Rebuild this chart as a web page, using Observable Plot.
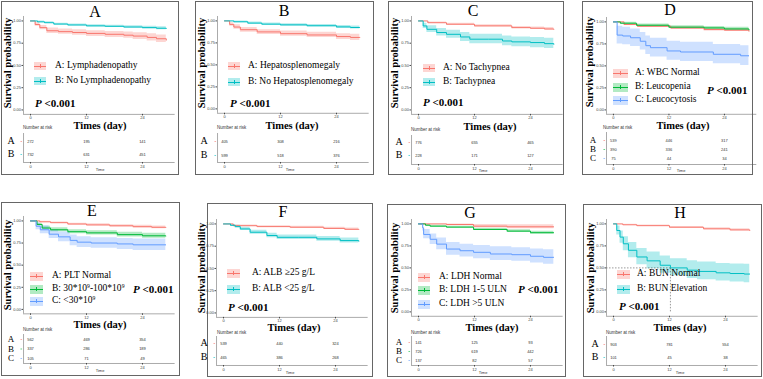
<!DOCTYPE html>
<html><head><meta charset="utf-8">
<script src="https://cdn.jsdelivr.net/npm/d3@7"></script>
<script src="https://cdn.jsdelivr.net/npm/@observablehq/plot@0.6"></script>
<style>
html,body{margin:0;padding:0;background:#fff;}
#fig{position:relative;width:763px;height:379px;overflow:hidden;background:#fff;font-family:"Liberation Serif","Times New Roman",serif;color:#000;}
.box{position:absolute;border:1px solid #666;box-sizing:border-box;}
.t{position:absolute;white-space:nowrap;line-height:1;transform:translate(-50%,-50%);}
.l{position:absolute;white-space:nowrap;line-height:1;transform:translate(0,-50%);}
.r{position:absolute;white-space:nowrap;line-height:1;transform:translate(-50%,-50%) rotate(-90deg);}
#fig svg{position:absolute;overflow:visible;}
sup{font-size:0.6em;vertical-align:0.55em;line-height:0;}
</style></head><body><div id="fig"></div>
<script>
// ---------- DATA ----------
const panelLetters = ["A","B","C","D","E","F","G","H"];
const timeTicks = [0, 12, 24];
const survTicks = [0, 0.25, 0.5, 0.75, 1];
const pValueText = "<0.001";
const rowLetters = ["A","B","C"];

// KM curves: [time, survival, lower CI, upper CI]
const labelsA = ["A: Lymphadenopathy", "B: No Lymphadenopathy"];
const kmA1 = [[0,1,1,1],[1,0.96,0.94,0.98],[2,0.925,0.9,0.95],[3.5,0.89,0.86,0.92],[6,0.88,0.85,0.91],[9,0.87,0.84,0.9],[12,0.86,0.825,0.89],[16,0.85,0.815,0.882],[20,0.84,0.805,0.875],[22,0.83,0.792,0.868],[25,0.815,0.775,0.855],[27,0.8,0.758,0.842],[29.1,0.785,0.745,0.83]];
const kmA2 = [[0,1,1,1],[1.5,0.99,0.98,1],[3,0.98,0.97,0.99],[5,0.965,0.955,0.975],[8,0.955,0.943,0.967],[12,0.945,0.932,0.958],[16,0.94,0.926,0.953],[20,0.932,0.918,0.946],[24,0.925,0.91,0.94],[27,0.918,0.9,0.935],[29.1,0.915,0.897,0.932]];
const riskA = [[272,195,141],[732,631,451]];

const labelsB = ["A: Hepatosplenomegaly", "B: No Hepatosplenomegaly"];
const kmB1 = [[0,1,1,1],[1.1,0.96,0.94,0.98],[2,0.93,0.905,0.955],[3.4,0.9,0.87,0.925],[7,0.875,0.845,0.9],[12,0.855,0.825,0.885],[17.7,0.84,0.81,0.87],[24,0.822,0.79,0.855],[27,0.812,0.778,0.847],[29,0.81,0.775,0.845]];
const kmB2 = [[0,1,1,1],[2,0.99,0.98,1],[5,0.975,0.963,0.987],[8,0.963,0.95,0.976],[12,0.955,0.94,0.968],[17.7,0.945,0.93,0.96],[24,0.932,0.915,0.948],[27,0.925,0.907,0.943],[29,0.925,0.907,0.943]];
const riskB = [[405,308,216],[599,518,376]];

const labelsC = ["A: No Tachypnea", "B: Tachypnea"];
const kmC1 = [[0,1,1,1],[2,0.98,0.972,0.988],[6,0.963,0.953,0.973],[12,0.945,0.933,0.957],[20,0.925,0.912,0.938],[24,0.918,0.904,0.932],[27,0.91,0.895,0.925],[29,0.906,0.89,0.922]];
const kmC2 = [[0,1,1,1],[1,0.944,0.915,0.975],[1.8,0.906,0.87,0.945],[3.9,0.87,0.83,0.915],[6,0.85,0.805,0.895],[9,0.82,0.77,0.87],[11,0.795,0.745,0.85],[15,0.795,0.745,0.85],[18,0.775,0.72,0.83],[20,0.765,0.71,0.82],[24,0.757,0.7,0.815],[27,0.745,0.69,0.805],[29,0.738,0.68,0.8]];
const riskC = [[776,655,465],[228,171,127]];

const labelsD = ["A: WBC Normal", "B: Leucopenia", "C: Leucocytosis"];
const kmD1 = [[0,1,1,1],[2.3,0.97,0.96,0.98],[5.2,0.95,0.938,0.962],[12.4,0.93,0.916,0.944],[19.6,0.913,0.898,0.928],[24,0.906,0.89,0.922],[29.3,0.894,0.876,0.912]];
const kmD2 = [[0,1,1,1],[1.5,0.985,0.975,0.995],[5,0.962,0.948,0.976],[12,0.94,0.924,0.956],[19.6,0.932,0.915,0.949],[24,0.92,0.902,0.938],[29.3,0.91,0.89,0.93]];
const kmD3 = [[0,1,1,1],[0.8,0.85,0.75,0.95],[2,0.84,0.74,0.94],[3.7,0.82,0.72,0.92],[5.8,0.78,0.68,0.88],[7,0.73,0.63,0.84],[8,0.707,0.6,0.815],[11.6,0.67,0.565,0.78],[14.5,0.658,0.55,0.768],[21.6,0.632,0.525,0.742],[27.5,0.615,0.505,0.728],[29.3,0.615,0.505,0.728]];
const riskD = [[539,446,317],[390,336,241],[75,44,34]];

const labelsE = ["A: PLT Normal", "B: 30*10^9-100*10^9", "C: <30*10^9"];
const kmE1 = [[0,1,1,1],[2,0.99,0.985,0.995],[4.3,0.98,0.972,0.988],[8,0.965,0.955,0.975],[12,0.955,0.943,0.967],[17,0.945,0.932,0.958],[22,0.935,0.92,0.95],[26,0.928,0.912,0.944],[29,0.925,0.908,0.942]];
const kmE2 = [[0,1,1,1],[1.4,0.96,0.945,0.975],[2.5,0.92,0.9,0.94],[4.3,0.9,0.878,0.922],[8,0.878,0.855,0.9],[12,0.865,0.84,0.89],[18.6,0.845,0.818,0.872],[24,0.832,0.803,0.86],[29,0.83,0.8,0.86]];
const kmE3 = [[0,1,1,1],[1.2,0.94,0.9,0.98],[2.1,0.9,0.855,0.945],[4,0.85,0.8,0.9],[6,0.82,0.765,0.875],[8.5,0.78,0.72,0.84],[10,0.76,0.7,0.82],[13,0.75,0.69,0.81],[18.6,0.74,0.678,0.802],[22,0.73,0.665,0.795],[29,0.73,0.665,0.795]];
const riskE = [[562,469,354],[337,286,189],[105,71,49]];

const labelsF = ["A: ALB \u226525 g/L", "B: ALB <25 g/L"];
const kmF1 = [[0,1,1,1],[2.1,0.98,0.972,0.988],[7.2,0.97,0.96,0.98],[14.3,0.963,0.952,0.974],[21.5,0.95,0.937,0.963],[26,0.94,0.926,0.954],[29,0.937,0.922,0.952]];
const kmF2 = [[0,1,1,1],[1.5,0.985,0.975,0.995],[2.5,0.97,0.955,0.985],[3.6,0.944,0.925,0.963],[5.7,0.907,0.885,0.93],[9.3,0.87,0.845,0.895],[11.5,0.85,0.825,0.876],[16,0.85,0.825,0.876],[20,0.832,0.805,0.86],[25,0.813,0.785,0.842],[29,0.806,0.777,0.835]];
const riskF = [[539,440,324],[465,386,268]];

const labelsG = ["A: LDH Normal", "B: LDH 1-5 ULN", "C: LDH >5 ULN"];
const kmG1 = [[0,1,1,1],[6,0.993,0.98,1],[11.8,0.974,0.955,0.993],[19,0.967,0.945,0.99],[29,0.967,0.945,0.99]];
const kmG2 = [[0,1,1,1],[1.5,0.985,0.977,0.993],[2.5,0.974,0.964,0.984],[6,0.963,0.952,0.974],[11.8,0.937,0.924,0.95],[19,0.918,0.903,0.933],[24,0.9,0.883,0.917],[29,0.9,0.883,0.917]];
const kmG3 = [[0,1,1,1],[0.9,0.955,0.92,0.99],[1.1,0.88,0.83,0.935],[2.5,0.825,0.765,0.885],[3.9,0.77,0.705,0.84],[6,0.714,0.645,0.79],[8.9,0.695,0.625,0.77],[11.8,0.677,0.605,0.755],[15.4,0.658,0.585,0.74],[20,0.65,0.575,0.73],[24,0.632,0.555,0.715],[26.8,0.62,0.54,0.705],[29,0.62,0.54,0.705]];
const riskG = [[141,125,93],[726,619,442],[137,82,57]];

const labelsH = ["A: BUN Normal", "B: BUN Elevation"];
const kmH1 = [[0,1,1,1],[2,0.99,0.985,0.995],[5,0.98,0.973,0.987],[12,0.962,0.953,0.971],[19.3,0.944,0.933,0.955],[25,0.932,0.92,0.944],[29.2,0.925,0.912,0.938]];
const kmH2 = [[0,1,1,1],[0.7,0.925,0.875,0.975],[1.4,0.85,0.78,0.92],[2.1,0.774,0.695,0.855],[3.2,0.7,0.615,0.79],[5,0.624,0.535,0.72],[7.2,0.58,0.49,0.68],[10,0.53,0.44,0.635],[12.2,0.5,0.41,0.605],[15.8,0.474,0.38,0.58],[18,0.46,0.365,0.567],[22,0.444,0.35,0.55],[25,0.436,0.34,0.545],[28,0.43,0.33,0.54],[29.2,0.43,0.33,0.54]];
const riskH = [[903,781,554],[101,45,38]];
const medianH = 12.2;

// ---------- STYLE / LAYOUT ----------
const pal2 = ["#F8766D", "#00BFC4"];
const pal3 = ["#F8766D", "#00BA38", "#619CFF"];

const panels = [
 {curves:[kmA1,kmA2], labels:labelsA, risk:riskA, median:null},
 {curves:[kmB1,kmB2], labels:labelsB, risk:riskB, median:null},
 {curves:[kmC1,kmC2], labels:labelsC, risk:riskC, median:null},
 {curves:[kmD1,kmD2,kmD3], labels:labelsD, risk:riskD, median:null},
 {curves:[kmE1,kmE2,kmE3], labels:labelsE, risk:riskE, median:null},
 {curves:[kmF1,kmF2], labels:labelsF, risk:riskF, median:null},
 {curves:[kmG1,kmG2,kmG3], labels:labelsG, risk:riskG, median:null},
 {curves:[kmH1,kmH2], labels:labelsH, risk:riskH, median:medianH}
];

const layouts = [
 {box:[1,1,178,174], title:[95,12], x0:30, x24:142, yTop:20, yBot:109, swX:34, legRows:[66,81], textX:55, swW:12, swH:8, p:[35,103], times:[100,126], surv:[8,63], nar:[23,128], rows:[141,154], tblTop:133, tblBottom:162, letterX:11, time:[100,170]},
 {box:[195,1,179,174], title:[284,11], x0:224, x24:336, yTop:20, yBot:108, swX:228, legRows:[66,82], textX:248, swW:12, swH:8, p:[230,103], times:[292,126], surv:[202,63], nar:[217,128], rows:[141,155], tblTop:133, tblBottom:162, letterX:204, time:[290,170]},
 {box:[388,1,176,174], title:[473,11], x0:418, x24:530, yTop:20, yBot:109, swX:423, legRows:[68,82], textX:443, swW:12, swH:8, p:[423,102], times:[490,127], surv:[395,63], nar:[411,130], rows:[142,155], tblTop:135, tblBottom:164, letterX:399, time:[483,171]},
 {box:[582,1,171,174], title:[670,10], x0:613, x24:724, yTop:21, yBot:109, swX:613, legRows:[73,87,100], textX:635, swW:15, swH:9, p:[707,90], times:[683,126], surv:[590,62], nar:[603,128], rows:[140,149,158], tblTop:132, tblBottom:164, letterX:593, time:[681,171]},
 {box:[1,202,179,174], title:[92,211], x0:30, x24:142, yTop:220, yBot:308.5, swX:30, legRows:[276,289,301], textX:52, swW:13, swH:9, p:[133,289], times:[100,324.5], surv:[8,265], nar:[23,330], rows:[339,349,358], tblTop:334, tblBottom:363, letterX:11, time:[100,371]},
 {box:[207,203,166,174], title:[283,212], x0:223, x24:335, yTop:223, yBot:312, swX:227, legRows:[273,289], textX:252, swW:13, swH:9, p:[228,307], times:[294,328], surv:[202,268], nar:[217,333], rows:[343,357], tblTop:336, tblBottom:365, letterX:204, time:[290,373]},
 {box:[387,204,179,173], title:[470,213], x0:418, x24:530, yTop:223, yBot:311, swX:418, legRows:[277,290,304], textX:439, swW:12, swH:9, p:[518,289], times:[492,328], surv:[395,268], nar:[411,333], rows:[342,351,360], tblTop:336, tblBottom:365, letterX:399, time:[483,373]},
 {box:[583,204,179,173], title:[680,213], x0:613, x24:725, yTop:223, yBot:311, swX:617, legRows:[274,289], textX:637, swW:13, swH:9, p:[619,306], times:[680,328], surv:[591,268], nar:[606,333], rows:[344,357], tblTop:336, tblBottom:365, letterX:595, time:[680,373]}
];

const fig = document.getElementById("fig");
const D0 = -1.5, D1 = 31;

function addDiv(cls, x, y, html, style) {
  const d = document.createElement("div");
  d.className = cls;
  d.style.left = x + "px"; d.style.top = y + "px";
  d.innerHTML = html;
  Object.assign(d.style, style || {});
  fig.appendChild(d);
  return d;
}
function place(svg, left, top) {
  svg.style.left = left + "px"; svg.style.top = top + "px";
  fig.appendChild(svg);
}

panels.forEach((P, pi) => {
  const L = layouts[pi];
  const colors = P.curves.length === 3 ? pal3 : pal2;
  const k = (L.x24 - L.x0) / 24;
  const fL = L.x0 + D0 * k, fR = L.x0 + D1 * k;

  // panel box
  addDiv("box", L.box[0], L.box[1], "", {width: L.box[2] + "px", height: L.box[3] + "px"});

  // ---- KM plot ----
  const hh = L.yBot - L.yTop;
  const fT = L.yTop - 0.05 * hh, fB = L.yBot + 0.05 * hh;
  const mL = 20, mR = 2, mT = 2, mB = 10;
  const marks = [];
  P.curves.forEach((c, i) => marks.push(Plot.areaY(c, {x: d => d[0], y1: d => d[2], y2: d => d[3], curve: "step-after", fill: colors[i], fillOpacity: 0.3})));
  P.curves.forEach((c, i) => marks.push(Plot.lineY(c, {x: d => d[0], y: d => d[1], curve: "step-after", stroke: colors[i], strokeWidth: 1})));
  if (P.median != null) {
    marks.push(Plot.ruleY([0.5], {x1: D0, x2: P.median, stroke: "#333", strokeWidth: 0.5, strokeDasharray: "1.5,1.5"}));
    marks.push(Plot.ruleX([P.median], {y1: 0, y2: 0.5, stroke: "#333", strokeWidth: 0.5, strokeDasharray: "1.5,1.5"}));
  }
  marks.push(Plot.ruleX([D0], {stroke: "#555", strokeWidth: 0.5}));
  marks.push(Plot.ruleY([-0.05], {stroke: "#555", strokeWidth: 0.5}));
  marks.push(Plot.axisY(survTicks, {tickFormat: d3.format(".2f"), tickSize: 1.5, tickPadding: 1, fontSize: 4, label: null, color: "#444"}));
  marks.push(Plot.axisX(timeTicks, {tickSize: 1.5, tickPadding: 0.5, fontSize: 4, label: null, color: "#444"}));
  const km = Plot.plot({
    width: mL + (fR - fL) + mR, height: mT + (fB - fT) + mB,
    marginLeft: mL, marginRight: mR, marginTop: mT, marginBottom: mB,
    x: {domain: [D0, D1]}, y: {domain: [-0.05, 1.05]},
    style: {fontFamily: "Liberation Sans, Arial, sans-serif", background: "transparent", overflow: "visible"},
    marks
  });
  place(km, fL - mL, fT - mT);

  // ---- risk table ----
  const n = P.risk.length;
  const rows = [];
  P.risk.forEach((r, gi) => r.forEach((v, ti) => rows.push({g: gi, t: timeTicks[ti], n: v})));
  const tH = L.tblBottom - L.tblTop;
  const tmB = 8;
  const r0 = L.rows[0] - L.tblTop, r1 = L.rows[n - 1] - L.tblTop;
  const yBottomVal = (tH - r0) / (r1 - r0) * (n - 1);
  const tMarks = [
    Plot.ruleX([D0], {stroke: "#555", strokeWidth: 0.5}),
    Plot.ruleY([yBottomVal], {stroke: "#555", strokeWidth: 0.5}),
    Plot.text(rows, {x: "t", y: "g", text: "n", fontSize: 4, fill: "#333"}),
    Plot.axisX(timeTicks, {tickSize: 1.5, tickPadding: 1, fontSize: 4, label: null, color: "#444"})
  ];
  for (let gi = 0; gi < n; gi++) {
    tMarks.push(Plot.ruleY([gi], {x1: D0 - 0.55, x2: D0 - 0.2, stroke: colors[gi], strokeWidth: 0.6}));
  }
  const tbl = Plot.plot({
    width: mL + (fR - fL) + mR, height: tH + tmB,
    marginLeft: mL, marginRight: mR, marginTop: 0, marginBottom: tmB,
    x: {domain: [D0, D1]},
    y: {domain: [0, n - 1], range: [r0, r1], axis: null},
    style: {fontFamily: "Liberation Sans, Arial, sans-serif", background: "transparent", overflow: "visible"},
    marks: tMarks
  });
  place(tbl, fL - mL, L.tblTop);

  // ---- texts ----
  addDiv("t", L.title[0], L.title[1], panelLetters[pi], {fontSize: "16px"});
  addDiv("r", L.surv[0], L.surv[1], "Survival probability", {fontSize: "10.5px", fontWeight: "bold"});
  addDiv("t", L.times[0], L.times[1], "Times (day)", {fontSize: "10.5px", fontWeight: "bold"});
  addDiv("l", L.p[0], L.p[1], "<i>P</i> " + pValueText.replace("<", "&lt;"), {fontSize: "11px", fontWeight: "bold"});
  addDiv("l", L.nar[0], L.nar[1], "Number at risk", {fontSize: "4.5px", fontFamily: "Liberation Sans, Arial, sans-serif", color: "#333"});
  addDiv("t", L.time[0], L.time[1], "Time", {fontSize: "4px", fontFamily: "Liberation Sans, Arial, sans-serif", color: "#333"});
  const letterSize = n === 3 ? "9px" : "10px";
  for (let gi = 0; gi < n; gi++) {
    addDiv("t", L.letterX, L.rows[gi], rowLetters[gi], {fontSize: letterSize});
  }
  // legend
  P.labels.forEach((lab, i) => {
    const y = L.legRows[i];
    const sw = addDiv("", L.swX, y - L.swH / 2, "", {position: "absolute", width: L.swW + "px", height: L.swH + "px"});
    const bg = document.createElement("div");
    Object.assign(bg.style, {position: "absolute", left: 0, top: 0, width: "100%", height: "100%", background: colors[i], opacity: 0.3});
    const ln = document.createElement("div");
    Object.assign(ln.style, {position: "absolute", left: 0, top: (L.swH / 2 - 0.5) + "px", width: "100%", height: "1px", background: colors[i]});
    const cr = document.createElement("div");
    Object.assign(cr.style, {position: "absolute", left: (L.swW / 2 - 0.5) + "px", top: (L.swH / 2 - 2) + "px", width: "1px", height: "4px", background: colors[i]});
    sw.append(bg, ln, cr);
    const html = lab.replace(/</g, "&lt;").replace(/\^9/g, "<sup>9</sup>");
    addDiv("l", L.textX, y, html, {fontSize: "9.5px"});
  });
});
</script></body></html>
